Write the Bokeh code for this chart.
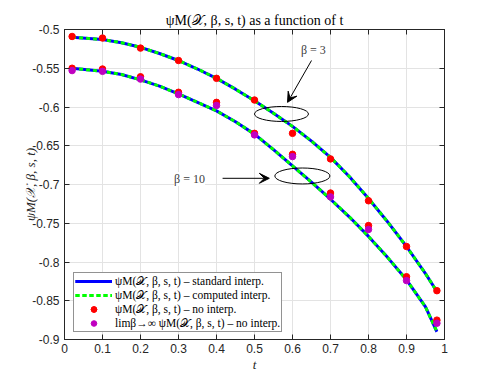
from bokeh.plotting import figure
from bokeh.models import (Range1d, FixedTicker, LinearAxis, Legend, LegendItem,
                          Label, Arrow, VeeHead)
from bokeh.embed import file_html
from bokeh.resources import INLINE

# ---------------- data ----------------
t_curve = [0.02, 0.1, 0.15, 0.2, 0.25, 0.3, 0.35, 0.4, 0.45, 0.5, 0.55,
           0.6, 0.65, 0.7, 0.75, 0.8, 0.85, 0.9, 0.95, 0.98]
psi_b3_curve = [-0.510, -0.513, -0.517, -0.523, -0.531, -0.540, -0.551, -0.563,
                -0.577, -0.592, -0.608, -0.625, -0.644, -0.665, -0.690, -0.718,
                -0.748, -0.780, -0.815, -0.838]
psi_b10_curve = [-0.550, -0.554, -0.558, -0.565, -0.573, -0.583, -0.594, -0.605,
                 -0.619, -0.635, -0.655, -0.676, -0.697, -0.719, -0.742, -0.767,
                 -0.794, -0.823, -0.858, -0.890]

t_pts = [0.02, 0.1, 0.2, 0.3, 0.4, 0.5, 0.6, 0.7, 0.8, 0.9, 0.98]
psi_b3_pts = [-0.509, -0.511, -0.524, -0.540, -0.563, -0.591, -0.634, -0.667,
              -0.721, -0.780, -0.837]
psi_b10_pts = [-0.550, -0.551, -0.561, -0.581, -0.594, -0.634, -0.661, -0.711,
               -0.753, -0.819, -0.875]
psi_lim_pts = [-0.553, -0.554, -0.564, -0.584, -0.598, -0.636, -0.664, -0.716,
               -0.758, -0.824, -0.879]

x_ticks = [0, 0.1, 0.2, 0.3, 0.4, 0.5, 0.6, 0.7, 0.8, 0.9, 1]
x_tick_labels = ["0", "0.1", "0.2", "0.3", "0.4", "0.5", "0.6", "0.7", "0.8", "0.9", "1"]
y_ticks = [-0.9, -0.85, -0.8, -0.75, -0.7, -0.65, -0.6, -0.55, -0.5]
y_tick_labels = ["-0.9", "-0.85", "-0.8", "-0.75", "-0.7", "-0.65", "-0.6", "-0.55", "-0.5"]

title_text = "ψM(𝒳, β, s, t) as a function of t"
x_label = "t"
y_label = "ψM(𝒳, β, s, t)"
legend_labels = ["ψM(𝒳, β, s, t) – standard interp.",
                 "ψM(𝒳, β, s, t) – computed interp.",
                 "ψM(𝒳, β, s, t) – no interp.",
                 "limβ→∞ ψM(𝒳, β, s, t) – no interp."]

# annotation geometry (data units)
ann_texts = ["β = 3", "β = 10"]
ann_text_x = [0.655, 0.329]
ann_text_y = [-0.527, -0.693]
arrow_x0 = [0.650, 0.416]
arrow_y0 = [-0.540, -0.692]
arrow_x1 = [0.587, 0.539]
arrow_y1 = [-0.594, -0.692]
ell_x = [0.571, 0.626]
ell_y = [-0.609, -0.689]
ell_w = [0.142, 0.145]
ell_h = [0.0193, 0.0206]

AX = "#262626"
SERIF = "Liberation Serif"
SANS = "Liberation Sans"

p = figure(width=483, height=374, x_range=Range1d(0, 1), y_range=Range1d(-0.9, -0.5),
           output_backend="svg", toolbar_location=None, title=title_text,
           min_border_left=64, min_border_right=39, min_border_top=29, min_border_bottom=34)
p.background_fill_color = "white"
p.border_fill_color = "white"
p.outline_line_color = AX
p.outline_line_width = 1

p.title.align = "center"
p.title.text_font = SERIF
p.title.text_font_size = "14px"
p.title.text_font_style = "normal"
p.title.text_color = "black"
p.title.standoff = 4

xt = FixedTicker(ticks=x_ticks)
yt = FixedTicker(ticks=y_ticks)

xa = p.xaxis[0]
ya = p.yaxis[0]
xa.ticker = xt
xa.major_label_overrides = dict(zip(x_ticks, x_tick_labels))
ya.ticker = yt
ya.major_label_overrides = dict(zip(y_ticks, y_tick_labels))

top = LinearAxis(ticker=xt)
right = LinearAxis(ticker=yt)
p.add_layout(top, "above")
p.add_layout(right, "right")

for ax in [xa, ya, top, right]:
    ax.axis_line_color = AX
    ax.major_tick_line_color = AX
    ax.major_tick_in = 5
    ax.major_tick_out = 0
    ax.minor_tick_line_color = None
    ax.major_label_text_font = SANS
    ax.major_label_text_font_size = "12px"
    ax.major_label_text_color = AX
    ax.major_label_standoff = 5

for ax in [top, right]:
    ax.major_label_text_font_size = "0px"
    ax.major_label_text_color = None
    ax.major_label_standoff = 0

xa.major_label_standoff = 4
xa.axis_label = x_label
xa.axis_label_text_font = SERIF
xa.axis_label_text_font_style = "italic"
xa.axis_label_text_font_size = "13px"
xa.axis_label_text_color = AX
xa.axis_label_standoff = 1

ya.axis_label = y_label
ya.axis_label_text_font = SERIF
ya.axis_label_text_font_style = "italic"
ya.axis_label_text_font_size = "13px"
ya.axis_label_text_color = AX
ya.axis_label_standoff = -9

p.xgrid.ticker = xt
p.ygrid.ticker = yt
p.grid.grid_line_color = "#e3e3e3"
p.grid.grid_line_width = 1

# ---------------- data lines & points ----------------
b1 = p.line(t_curve, psi_b3_curve, line_color="#0000ff", line_width=3)
b2 = p.line(t_curve, psi_b10_curve, line_color="#0000ff", line_width=3)
g1 = p.line(t_curve, psi_b3_curve, line_color="#00ff00", line_width=3, line_dash="4 3")
g2 = p.line(t_curve, psi_b10_curve, line_color="#00ff00", line_width=3, line_dash="4 3")
r1 = p.scatter(t_pts, psi_b3_pts, size=6.5, fill_color="#ff0000", line_color="#ff0000")
r2 = p.scatter(t_pts, psi_b10_pts, size=6.5, fill_color="#ff0000", line_color="#ff0000")
m1 = p.scatter(t_pts, psi_lim_pts, size=6.5, fill_color="#c000c0", line_color="#c000c0")

# ---------------- annotations ----------------
p.ellipse(x=ell_x, y=ell_y, width=ell_w, height=ell_h, fill_color=None,
          line_color="black", line_width=1)
for i in range(2):
    p.add_layout(Arrow(end=VeeHead(size=10, fill_color="black", line_color="black"),
                       x_start=arrow_x0[i], y_start=arrow_y0[i],
                       x_end=arrow_x1[i], y_end=arrow_y1[i],
                       line_color="black", line_width=1))
    p.add_layout(Label(x=ann_text_x[i], y=ann_text_y[i], text=ann_texts[i],
                       text_align="center", text_baseline="middle",
                       text_font=SERIF, text_font_size="12px", text_color="#404040",
                       background_fill_color="white"))

# ---------------- legend ----------------
legend = Legend(items=[
    LegendItem(label=legend_labels[0], renderers=[b1, b2]),
    LegendItem(label=legend_labels[1], renderers=[g1, g2]),
    LegendItem(label=legend_labels[2], renderers=[r1, r2]),
    LegendItem(label=legend_labels[3], renderers=[m1]),
], location=(9, 7))
legend.label_text_font = SERIF
legend.label_text_font_size = "11.5px"
legend.label_text_color = "black"
legend.glyph_width = 37
legend.glyph_height = 14
legend.label_height = 14
legend.label_standoff = 3
legend.spacing = 0
legend.padding = 1
legend.margin = 0
legend.border_line_color = AX
legend.border_line_width = 1
legend.background_fill_alpha = 1
p.add_layout(legend, "center")

open("out.html", "w").write(file_html(p, INLINE))
